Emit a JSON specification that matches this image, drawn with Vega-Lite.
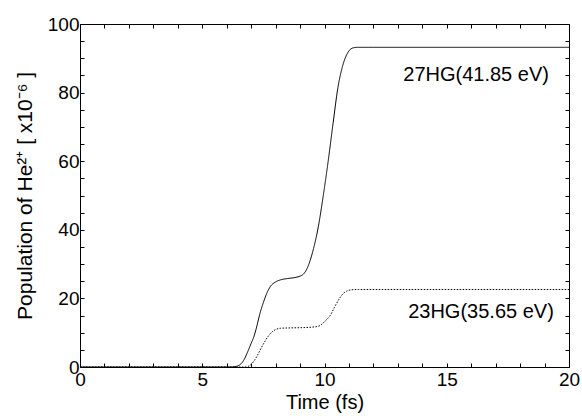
{
  "$schema": "https://vega.github.io/schema/vega-lite/v6.json",
  "autosize": "none",
  "width": 489,
  "height": 343,
  "padding": {"left": 80, "top": 24, "right": 13, "bottom": 49},
  "background": "white",
  "config": {
    "view": {"stroke": "black", "strokeWidth": 1},
    "font": "Liberation Sans",
    "axis": {"grid": false, "domain": false, "tickColor": "black", "tickWidth": 1, "labelColor": "black", "titleColor": "black", "labelFont": "Liberation Sans", "titleFont": "Liberation Sans", "labelFontWeight": "normal", "titleFontWeight": "normal"}
  },
  "datasets": {
    "curves": [
      {"t": 0, "p": 0, "s": "27HG"},
      {"t": 6.2, "p": 0, "s": "27HG"},
      {"t": 6.4, "p": 0.2, "s": "27HG"},
      {"t": 6.55, "p": 0.7, "s": "27HG"},
      {"t": 6.7, "p": 2, "s": "27HG"},
      {"t": 6.85, "p": 4.3, "s": "27HG"},
      {"t": 7.0, "p": 6.9, "s": "27HG"},
      {"t": 7.1, "p": 8.6, "s": "27HG"},
      {"t": 7.2, "p": 11, "s": "27HG"},
      {"t": 7.36, "p": 15.6, "s": "27HG"},
      {"t": 7.5, "p": 18.8, "s": "27HG"},
      {"t": 7.64, "p": 21.5, "s": "27HG"},
      {"t": 7.8, "p": 23.6, "s": "27HG"},
      {"t": 8.0, "p": 24.8, "s": "27HG"},
      {"t": 8.2, "p": 25.4, "s": "27HG"},
      {"t": 8.5, "p": 25.8, "s": "27HG"},
      {"t": 8.8, "p": 26.1, "s": "27HG"},
      {"t": 9.0, "p": 26.5, "s": "27HG"},
      {"t": 9.14, "p": 27.1, "s": "27HG"},
      {"t": 9.28, "p": 28.6, "s": "27HG"},
      {"t": 9.41, "p": 31, "s": "27HG"},
      {"t": 9.55, "p": 34.5, "s": "27HG"},
      {"t": 9.75, "p": 41, "s": "27HG"},
      {"t": 9.95, "p": 50, "s": "27HG"},
      {"t": 10.15, "p": 60, "s": "27HG"},
      {"t": 10.35, "p": 71, "s": "27HG"},
      {"t": 10.55, "p": 81.5, "s": "27HG"},
      {"t": 10.75, "p": 88, "s": "27HG"},
      {"t": 10.95, "p": 91.6, "s": "27HG"},
      {"t": 11.15, "p": 93, "s": "27HG"},
      {"t": 11.35, "p": 93.2, "s": "27HG"},
      {"t": 12, "p": 93.2, "s": "27HG"},
      {"t": 20, "p": 93.2, "s": "27HG"},
      {"t": 0, "p": 0, "s": "23HG"},
      {"t": 6.8, "p": 0, "s": "23HG"},
      {"t": 6.95, "p": 0.5, "s": "23HG"},
      {"t": 7.1, "p": 1.6, "s": "23HG"},
      {"t": 7.25, "p": 3.3, "s": "23HG"},
      {"t": 7.4, "p": 5.4, "s": "23HG"},
      {"t": 7.55, "p": 7.3, "s": "23HG"},
      {"t": 7.7, "p": 9, "s": "23HG"},
      {"t": 7.85, "p": 10.2, "s": "23HG"},
      {"t": 8.0, "p": 10.9, "s": "23HG"},
      {"t": 8.2, "p": 11.3, "s": "23HG"},
      {"t": 8.6, "p": 11.4, "s": "23HG"},
      {"t": 9.2, "p": 11.5, "s": "23HG"},
      {"t": 9.6, "p": 11.7, "s": "23HG"},
      {"t": 9.82, "p": 12.1, "s": "23HG"},
      {"t": 9.95, "p": 12.9, "s": "23HG"},
      {"t": 10.1, "p": 13.9, "s": "23HG"},
      {"t": 10.22, "p": 14.9, "s": "23HG"},
      {"t": 10.4, "p": 17.3, "s": "23HG"},
      {"t": 10.57, "p": 19.5, "s": "23HG"},
      {"t": 10.75, "p": 21.3, "s": "23HG"},
      {"t": 10.9, "p": 22.1, "s": "23HG"},
      {"t": 11.1, "p": 22.5, "s": "23HG"},
      {"t": 11.4, "p": 22.6, "s": "23HG"},
      {"t": 20, "p": 22.6, "s": "23HG"}
    ],
    "labels": [
      {"t": 16.2, "p": 85.1, "label": "27HG(41.85 eV)"},
      {"t": 16.4, "p": 15.9, "label": "23HG(35.65 eV)"}
    ]
  },
  "layer": [
    {
      "data": {"name": "curves"},
      "mark": {"type": "line", "interpolate": "monotone", "color": "black", "strokeWidth": 1, "clip": true},
      "encoding": {
        "x": {"field": "t", "type": "quantitative", "scale": {"domain": [0, 20], "nice": false},
          "axis": {"orient": "bottom", "offset": -4, "title": "Time (fs)", "values": [0,1,2,3,4,5,6,7,8,9,10,11,12,13,14,15,16,17,18,19,20],
            "labelExpr": "datum.value % 5 == 0 ? datum.label : ''", "tickSize": 4, "labelPadding": 3, "labelFontSize": 19, "titleFontSize": 20, "titlePadding": 3, "labelFlush": false, "labelOverlap": false}},
        "y": {"field": "p", "type": "quantitative", "scale": {"domain": [0, 100], "nice": false},
          "axis": {"orient": "left", "offset": -4, "title": "Population of He²⁺ [ x10⁻⁶ ]", "values": [0,5,10,15,20,25,30,35,40,45,50,55,60,65,70,75,80,85,90,95,100],
            "labelExpr": "datum.value % 20 == 0 ? datum.label : ''", "tickSize": 4, "labelPadding": 1, "labelFontSize": 19, "titleFontSize": 21, "titlePadding": 12, "labelFlush": false, "labelOverlap": false}},
        "strokeDash": {"field": "s", "type": "nominal", "scale": {"domain": ["27HG", "23HG"], "range": [[1, 0], [1.5, 1.5]]}, "legend": null}
      }
    },
    {
      "data": {"name": "labels"},
      "mark": {"type": "text", "fontSize": 20, "font": "Liberation Sans", "color": "black", "align": "center", "baseline": "middle"},
      "encoding": {
        "x": {"field": "t", "type": "quantitative",
          "axis": {"orient": "top", "offset": -4, "title": null, "labels": false, "values": [0,1,2,3,4,5,6,7,8,9,10,11,12,13,14,15,16,17,18,19,20], "tickSize": 4}},
        "y": {"field": "p", "type": "quantitative",
          "axis": {"orient": "right", "offset": -4, "title": null, "labels": false, "values": [0,5,10,15,20,25,30,35,40,45,50,55,60,65,70,75,80,85,90,95,100], "tickSize": 4}},
        "text": {"field": "label", "type": "nominal"}
      }
    }
  ],
  "resolve": {"axis": {"x": "independent", "y": "independent"}}
}
